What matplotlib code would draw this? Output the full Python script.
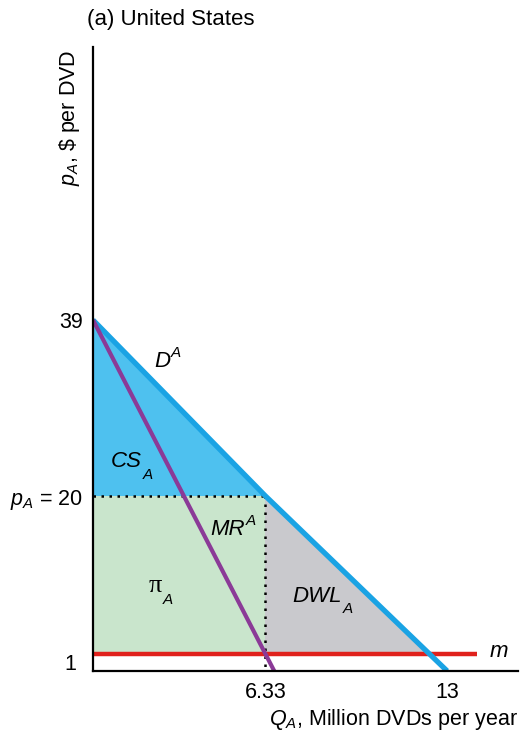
import numpy as np
import matplotlib
matplotlib.use("Agg")
import matplotlib.pyplot as plt

plt.rcParams['font.family'] = ['Liberation Sans', 'DejaVu Sans']
plt.rcParams['mathtext.fontset'] = 'custom'
plt.rcParams['mathtext.rm'] = 'Liberation Sans'
plt.rcParams['mathtext.it'] = 'Liberation Sans:italic'

# ---- data ----
p_max = 39        # demand intercept
q_max = 13        # demand quantity intercept
q_mono = 6.33     # monopoly quantity
p_mono = 20       # monopoly price
mc = 1            # marginal cost m
mc_end_q = 14.1   # extent of the m line
y_ticks = [1, 20, 39]
y_ticklabels = ['1', r'$p_A$ = 20', '39']
x_ticks = [6.33, 13]
x_ticklabels = ['6.33', '13']

# piecewise schematic price axis (as drawn in the reference)
yk = [0, 1, 20, 39, 68.5]
yd = [0, 17, 175, 351, 624]
fwd = lambda v: np.interp(v, yk, yd)
inv = lambda v: np.interp(v, yd, yk)

# where the drawn (straight) curves meet m / the axis on this schematic scale
q_cross = q_mono + (fwd(p_mono) - fwd(mc)) / (fwd(p_mono) - fwd(0)) * (q_max - q_mono)
q_mr_end = q_mono + (fwd(mc) - fwd(0)) * q_mono / (fwd(p_max) - fwd(mc))

demand_q = [0, q_mono, q_max]
demand_p = [p_max, p_mono, 0]
mr_q = [0, q_mono, q_mr_end]
mr_p = [p_max, mc, 0]

fig = plt.figure(figsize=(5.22, 7.37), dpi=100)
ax = fig.add_axes([93/522, 66/737, 425/522, 624/737])
ax.set_yscale('function', functions=(fwd, inv))
ax.set_xlim(0, 15.6)
ax.set_ylim(0, 68.5)

blue_fill = '#4ec1ef'
green_fill = '#c9e5cc'
gray_fill = '#c9c9cd'

ax.fill([0, 0, q_mono], [p_max, p_mono, p_mono], color=blue_fill, lw=0, zorder=1)
ax.fill([0, q_mono, q_mono, 0], [mc, mc, p_mono, p_mono], color=green_fill, lw=0, zorder=1)
ax.fill([q_mono, q_mono, q_cross], [p_mono, mc, mc], color=gray_fill, lw=0, zorder=1)

ax.plot([0, q_mono], [p_mono, p_mono], color='black', ls=(0, (1, 2.2)), lw=1.8, zorder=2)
ax.plot([q_mono, q_mono], [p_mono, 0], color='black', ls=(0, (1, 2.2)), lw=1.8, zorder=2)

ax.plot([0, mc_end_q], [mc, mc], color='#e0211c', lw=3.2, solid_capstyle='butt', zorder=3)
ax.plot(demand_q, demand_p, color='#1aa3e4', lw=3.8, solid_capstyle='butt', zorder=4)
ax.plot(mr_q, mr_p, color='#8b3a97', lw=3.0, solid_capstyle='butt', zorder=5)

for s in ['top', 'right']:
    ax.spines[s].set_visible(False)
for s in ['left', 'bottom']:
    ax.spines[s].set_linewidth(1.6)
    ax.spines[s].set_zorder(6)

ax.set_yticks(y_ticks)
ax.set_yticklabels(y_ticklabels)
ax.set_xticks(x_ticks)
ax.set_xticklabels(x_ticklabels)
ax.tick_params(length=0, labelsize=15.5, pad=7)
ax.tick_params(axis='x', pad=8)
ax.yaxis.set_minor_locator(matplotlib.ticker.NullLocator())

# the "1" label sits a little lower and further left in the reference
from matplotlib.transforms import ScaledTranslation
lbl1 = ax.get_yticklabels()[0]
lbl1.set_transform(lbl1.get_transform() + ScaledTranslation(-7/100, -8/100, fig.dpi_scale_trans))

fs = 16
sfs = 11


def label(x, y, main, sub=None, sup=None, family=None, style='italic', size=fs):
    kw = dict(fontsize=size, ha='left', va='baseline', style=style)
    if family:
        kw['family'] = family
    t = ax.text(x, y, main, **kw)
    if sub:
        ax.annotate(sub, xy=(1, 0), xycoords=t, xytext=(0.5, 3.4),
                    textcoords='offset points', fontsize=sfs, style='italic',
                    ha='left', va='top')
    if sup:
        ax.annotate(sup, xy=(1, 1), xycoords=t, xytext=(0.5, 3.6),
                    textcoords='offset points', fontsize=sfs, style='italic',
                    ha='left', va='top')
    return t


label(2.24, 33.9, 'D', sup='A')
label(0.66, 23.1, 'CS', sub='A')
label(4.30, 15.3, 'MR', sup='A')
label(2.05, 8.4, 'π', sub='A', family=['Liberation Serif'], style='normal', size=19)
label(7.31, 7.25, 'DWL', sub='A')
label(14.57, 0.82, 'm')

fig.text(87/522, 1 - 20/737, '(a) United States', fontsize=16, ha='left', va='center')
fig.text(70/522, 1 - 118/737, r'$p_A$, \$ per DVD', fontsize=15.5, rotation=90,
         ha='center', va='center')
fig.text(518/522, 1 - 720/737, r'$Q_A$, Million DVDs per year', fontsize=15.5,
         ha='right', va='center')

fig.savefig('out.png', dpi=100)
